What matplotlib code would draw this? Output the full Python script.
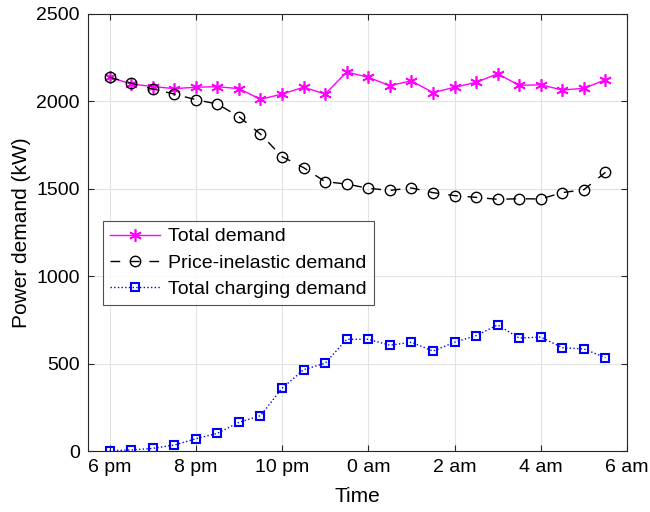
import matplotlib
matplotlib.use("Agg")
import matplotlib.pyplot as plt
import numpy as np

plt.rcParams['font.family'] = ['Liberation Sans', 'DejaVu Sans']

# time in hours after 18:00 (6 pm), half-hour steps
hours = [18 + 0.5 * i for i in range(24)]
tick_pos = [18, 20, 22, 24, 26, 28, 30]
tick_labels = ["6 pm", "8 pm", "10 pm", "0 am", "2 am", "4 am", "6 am"]

total_demand = [2138, 2100, 2085, 2073, 2081, 2084, 2073, 2012, 2042, 2081, 2042, 2168,
                2138, 2090, 2118, 2050, 2081, 2109, 2158, 2092, 2095, 2065, 2075, 2124]
price_inelastic = [2138, 2105, 2071, 2042, 2010, 1985, 1913, 1813, 1684, 1621, 1541, 1527,
                   1503, 1491, 1505, 1478, 1461, 1451, 1440, 1443, 1442, 1478, 1495, 1594]
charging = [2, 6, 15, 34, 70, 101, 164, 202, 359, 465, 502, 639,
            639, 605, 622, 572, 622, 660, 721, 646, 652, 591, 584, 534]

fig = plt.figure(figsize=(6.5, 5.12), dpi=100)
ax = fig.add_axes([88/650, 1 - 451/512, (627-88)/650, (451-14)/512])

ax.plot(hours, total_demand, '-', marker=(6, 2, 0), color='#ff00ff', lw=1.0, ms=9, mew=1.2,
        label='Total demand')
ax.plot(hours, price_inelastic, '--o', color='black', lw=1.0, ms=7.5, mew=1.0,
        mfc='none', dashes=(7, 7), label='Price-inelastic demand')
ax.plot(hours, charging, ':s', color='#0000ff', lw=1.0, ms=5.5, mew=1.5,
        mfc='none', label='Total charging demand')

ax.set_xlim(17.5, 30)
ax.set_ylim(0, 2500)
ax.set_xticks(tick_pos)
ax.set_xticklabels(tick_labels)
ax.set_yticks([0, 500, 1000, 1500, 2000, 2500])
ax.grid(True, color='#e3e3e3', lw=0.8)
ax.set_axisbelow(True)
ax.tick_params(direction='in', top=True, right=True, labelsize=14, length=4,
               color='#262626', pad=6)
for s in ax.spines.values():
    s.set_color('#262626')
    s.set_linewidth(0.8)
ax.set_xlabel('Time', fontsize=15, labelpad=8)
ax.set_ylabel('Power demand (kW)', fontsize=15, labelpad=4)

leg = ax.legend(loc='upper left', bbox_to_anchor=((103-88)/539, (451-221)/437),
                fontsize=14, frameon=True, fancybox=False, edgecolor='#262626',
                handlelength=2.6, borderpad=0.35, labelspacing=0.45, handletextpad=0.4,
                borderaxespad=0)
leg.get_frame().set_linewidth(0.8)

fig.savefig('out.png', dpi=100)
